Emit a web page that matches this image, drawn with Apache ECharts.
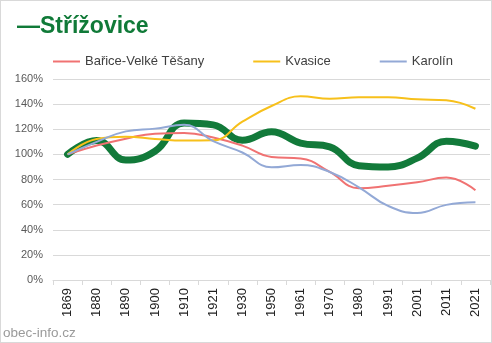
<!DOCTYPE html>
<html><head><meta charset="utf-8">
<script src="https://cdn.jsdelivr.net/npm/echarts@6/dist/echarts.min.js"></script>
<style>html,body{margin:0;padding:0;background:#fff}#c{width:492px;height:343px;box-sizing:border-box;border:1px solid #d9d9d9}</style>
</head><body><div id="c"></div>
<script>
var years = ['1869','1880','1890','1900','1910','1921','1930','1950','1961','1970','1980','1991','2001','2011','2021'];
var strizovice = [100,111,95.5,102.5,125,123.5,111.3,118,109,106,91,90,97,110.5,106.6];
var barice = [100,107,112.5,116.5,117,113.5,107,98,96.8,86,73,75,77.8,81.5,71.5];
var kvasice = [100,112.3,114,112.3,111,111.2,126,138.5,146.2,144.2,145.5,145.4,143.8,143,136.3];
var karolin = [100,110,118.3,120.5,123.5,110.5,101.5,89.7,91.6,86,73.8,59,53.3,59.8,61.8];
var yTicks = [0,20,40,60,80,100,120,140,160];

var chart = echarts.init(document.getElementById('c'));
function thin(name, data, color){
  return {name:name,type:'line',data:data,smooth:0.45,symbol:'none',z:3,
    lineStyle:{width:2,color:color},itemStyle:{color:color}};
}
chart.setOption({
  animation:false,
  title:{text:'—Střížovice',left:11,top:9,textStyle:{fontFamily:'Liberation Sans, Arial, sans-serif',fontSize:23,fontWeight:'bold',color:'#107a38'}},
  graphic:[{type:'text',left:2,top:325,style:{text:'obec-info.cz',fontFamily:'Liberation Sans, Arial, sans-serif',fontSize:13.5,fill:'#9a9a9a'}}],
  legend:{data:['Bařice-Velké Těšany','Kvasice','Karolín'],left:47,top:49,itemWidth:27,itemHeight:2,itemGap:49,icon:'rect',
    textStyle:{fontFamily:'Liberation Sans, Arial, sans-serif',fontSize:13,color:'#404040'}},
  grid:{left:52,right:1,top:78,bottom:62},
  xAxis:{type:'category',data:years,boundaryGap:true,
    axisLine:{lineStyle:{color:'#d9d9d9'}},
    axisTick:{show:true,length:5,lineStyle:{color:'#d9d9d9'}},
    axisLabel:{rotate:90,margin:8,fontFamily:'Liberation Sans, Arial, sans-serif',fontSize:13,color:'#222'}},
  yAxis:{type:'value',min:yTicks[0],max:yTicks[yTicks.length-1],interval:20,
    axisLine:{show:false},axisTick:{show:false},
    splitLine:{lineStyle:{color:'#d9d9d9'}},
    axisLabel:{formatter:'{value}%',margin:10,fontFamily:'Liberation Sans, Arial, sans-serif',fontSize:11,color:'#595959'}},
  series:[
    {name:'Střížovice',type:'line',data:strizovice,smooth:0.45,symbol:'none',z:2,
      lineStyle:{width:7,color:'#127a3a',cap:'round'},itemStyle:{color:'#127a3a'}},
    thin('Bařice-Velké Těšany',barice,'#f07272'),
    thin('Kvasice',kvasice,'#f7c01b'),
    thin('Karolín',karolin,'#93a9d6')
  ]
});
</script></body></html>
